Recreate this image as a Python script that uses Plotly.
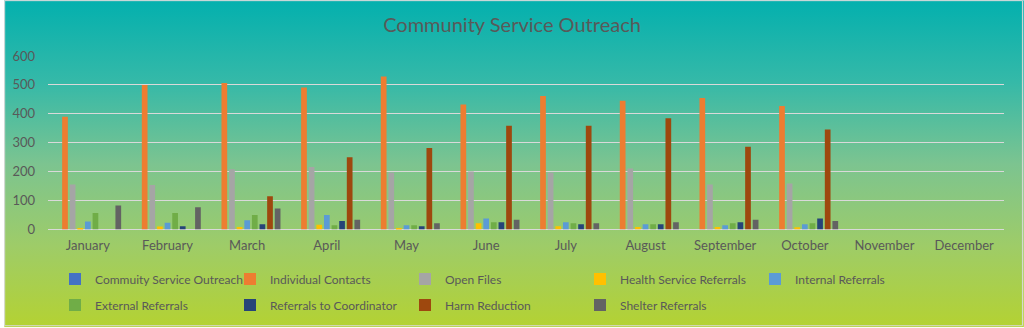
import base64
import plotly.graph_objects as go

# Monthly counts per service category
months = ["January", "February", "March", "April", "May", "June", "July",
          "August", "September", "October", "November", "December"]

outreach = [0, 0, 0, 0, 0, 0, 0, 0, 0, 0, 0, 0]
individual_contacts = [390, 500, 507, 491, 529, 432, 462, 445, 455, 427, 0, 0]
open_files = [156, 154, 208, 216, 197, 201, 197, 211, 156, 159, 0, 0]
health_service = [3, 10, 9, 16, 5, 22, 11, 9, 9, 8, 0, 0]
internal_referrals = [28, 23, 32, 50, 15, 38, 25, 18, 15, 18, 0, 0]
external_referrals = [57, 57, 50, 15, 15, 25, 22, 18, 22, 22, 0, 0]
coordinator_referrals = [0, 11, 18, 29, 11, 25, 18, 18, 25, 38, 0, 0]
harm_reduction = [0, 0, 115, 250, 282, 359, 359, 385, 286, 346, 0, 0]
shelter_referrals = [83, 77, 73, 34, 22, 34, 22, 25, 34, 29, 0, 0]

series = [
    ("Commuity Service Outreach", outreach, "#4472C4", "legend"),
    ("Individual Contacts", individual_contacts, "#ED7D31", "legend"),
    ("Open Files", open_files, "#A5A5A5", "legend"),
    ("Health Service Referrals", health_service, "#FFC000", "legend"),
    ("Internal Referrals", internal_referrals, "#5B9BD5", "legend"),
    ("External Referrals", external_referrals, "#70AD47", "legend2"),
    ("Referrals to Coordinator", coordinator_referrals, "#264478", "legend2"),
    ("Harm Reduction", harm_reduction, "#9E480E", "legend2"),
    ("Shelter Referrals", shelter_referrals, "#636363", "legend2"),
]

W, H = 1024, 328
L, R, T, B = 44, 20, 56, 98
TEXT = "#595959"
FONT = "Lato, 'Open Sans', sans-serif"

fig = go.Figure()
for name, vals, color, lg in series:
    fig.add_trace(go.Bar(x=months, y=vals, name=name, marker_color=color,
                         marker_line_width=0, legend=lg))

# Vertical teal-to-lime gradient behind the whole chart
svg = (
    '<svg xmlns="http://www.w3.org/2000/svg" width="100" height="100" preserveAspectRatio="none">'
    '<defs><linearGradient id="g" x1="0" y1="0" x2="0" y2="1">'
    '<stop offset="0" stop-color="#03B0AE"/>'
    '<stop offset="0.25" stop-color="#35B9A8"/>'
    '<stop offset="0.5" stop-color="#7CC490"/>'
    '<stop offset="0.75" stop-color="#9ECC68"/>'
    '<stop offset="1" stop-color="#B4D232"/>'
    '</linearGradient></defs>'
    '<rect width="100" height="100" fill="url(#g)"/></svg>'
)
src = "data:image/svg+xml;base64," + base64.b64encode(svg.encode()).decode()
pw, ph = W - L - R, H - T - B
fig.add_layout_image(dict(
    source=src, xref="paper", yref="paper",
    x=-L / pw, y=1 + T / ph, sizex=W / pw, sizey=H / ph,
    xanchor="left", yanchor="top", sizing="stretch", layer="below",
))

# Thin frame around the chart
fig.add_shape(type="rect", xref="paper", yref="paper",
              x0=-L / pw + 0.5 / pw, x1=1 + (R - 1.5) / pw,
              y0=-(B - 1.5) / ph, y1=1 + (T - 0.5) / ph,
              line=dict(color="#D9D9D9", width=1), layer="above")

legend_common = dict(
    orientation="h", xref="container", yref="container",
    xanchor="left", yanchor="middle", entrywidth=130,
    font=dict(family=FONT, size=12, color=TEXT),
    bgcolor="rgba(0,0,0,0)", itemclick=False,
)

fig.update_layout(
    width=W, height=H,
    margin=dict(l=L, r=R, t=T, b=B),
    paper_bgcolor="rgba(0,0,0,0)",
    plot_bgcolor="rgba(0,0,0,0)",
    barmode="group", bargap=0.14, bargroupgap=0.25,
    title=dict(text="Community Service Outreach", x=0.5, xref="container",
               y=1 - 25 / H, yref="container", yanchor="middle",
               font=dict(family=FONT, size=20, color=TEXT)),
    xaxis=dict(showgrid=False, showline=False, zeroline=False,
               tickfont=dict(family=FONT, size=13, color=TEXT),
               ticklabelstandoff=6, fixedrange=True),
    yaxis=dict(range=[0, 600], dtick=100, showgrid=True, gridcolor="#D9D9D9",
               gridwidth=1, zeroline=True, zerolinecolor="#D9D9D9", zerolinewidth=1,
               showline=False, tickfont=dict(family=FONT, size=13, color=TEXT),
               ticklabelstandoff=12, fixedrange=True),
    legend=dict(x=55 / W, y=1 - 279 / H, **legend_common),
    legend2=dict(x=55 / W, y=1 - 305 / H, **legend_common),
    showlegend=True,
)

fig.write_html("out.html")
